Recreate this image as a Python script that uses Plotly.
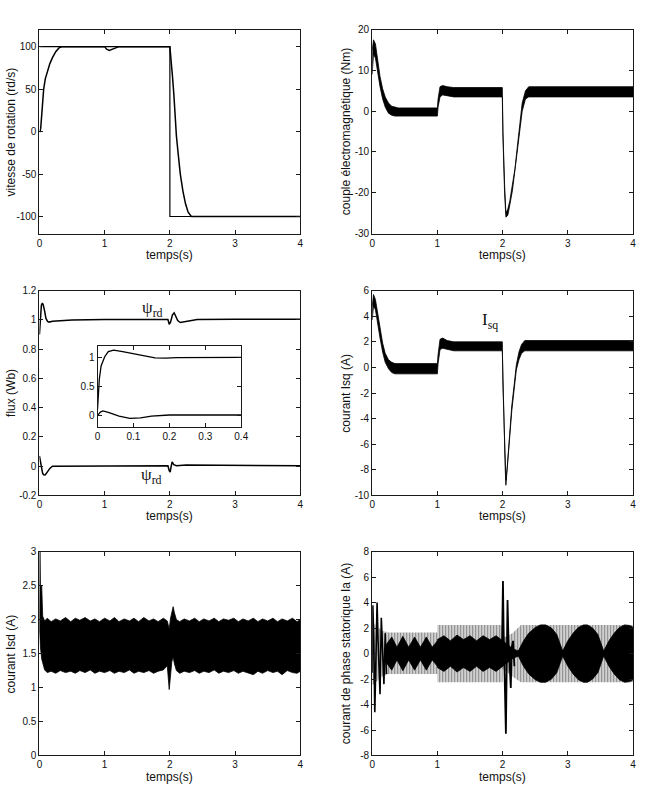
import plotly.graph_objects as go

# ---------------- data ----------------
# Panel 1: speed (rd/s)
t_wref = [0, 2, 2, 4]
w_ref = [100, 100, -100, -100]
t_w = [0, 0.01, 0.02, 0.035, 0.05, 0.065, 0.09, 0.12, 0.16, 0.2, 0.25, 0.3, 0.35,
       1.0, 1.03, 1.07, 1.12, 1.17, 1.22,
       2.0, 2.02, 2.04, 2.06, 2.08, 2.1, 2.13, 2.16, 2.2, 2.24, 2.28, 2.33, 4.0]
w = [0, 0, 4, 20, 38, 50, 62, 71, 80, 87, 94, 98.5, 100,
     100, 97, 95.5, 97, 99, 100,
     100, 85, 65, 45, 15, -5, -28, -50, -70, -85, -95, -100, -100]

# Panel 2: electromagnetic torque band (Nm)
t_te = [0, 0.02, 0.05, 0.08, 0.12, 0.16, 0.2, 0.25, 0.3, 0.35, 0.4, 1.0, 1.01, 1.04, 1.08, 1.15,
        1.25, 1.995, 2.005, 2.03, 2.05, 2.08, 2.11, 2.15, 2.19, 2.23, 2.27, 2.3, 2.35, 2.4, 4.0]
te_up = [15, 17.5, 16.5, 13, 8.5, 5.5, 3.5, 2, 1.2, 1, 0.8, 0.8, 3, 6, 6.3, 6,
         5.8, 5.8, -5, -18, -25, -24, -22, -18, -14, -8, -2, 2, 5, 6, 6]
te_lo = [9, 14, 13, 10, 6, 3, 1, -0.5, -1, -1.2, -1.2, -1.2, 1, 3.5, 4, 3.8,
         3.5, 3.5, -6.5, -20, -26, -25.5, -23, -19.5, -15.5, -10, -4, 0, 3, 3.5, 3.5]

# Panel 3: rotor flux components (Wb)
t_fd = [0, 0.01, 0.02, 0.03, 0.045, 0.06, 0.08, 0.1, 0.125, 0.15, 0.2, 0.3, 0.5, 1.0, 1.5,
        1.97, 1.99, 2.01, 2.04, 2.065, 2.09, 2.12, 2.16, 2.2, 2.3, 2.42, 3.0, 4.0]
fd = [0.9, 0.97, 1.05, 1.1, 1.115, 1.1, 1.06, 1.01, 0.99, 0.985, 0.99, 0.995, 1.0, 1.003, 1.005,
      1.003, 0.97, 0.985, 1.035, 1.048, 1.025, 0.995, 0.982, 0.985, 0.99, 1.003, 1.005, 1.005]
t_fq = [0, 0.01, 0.03, 0.05, 0.07, 0.09, 0.12, 0.16, 0.2, 0.3, 1.0, 1.2, 1.97, 1.99, 2.005,
        2.02, 2.035, 2.06, 2.1, 2.25, 2.3, 2.45, 4.0]
fq = [0.07, 0.04, -0.02, -0.05, -0.06, -0.058, -0.04, -0.015, 0.0, 0.0, 0.0, 0.003, 0.003, -0.03,
      -0.04, 0.0, 0.03, 0.01, 0.003, 0.008, 0.008, 0.003, 0.003]
# inset (zoom 0 - 0.4 s)
t_in_d = [0, 0.002, 0.005, 0.01, 0.02, 0.03, 0.045, 0.07, 0.1, 0.13, 0.16, 0.19, 0.22, 0.4]
in_d = [0.1, 0.35, 0.62, 0.85, 1.01, 1.1, 1.125, 1.1, 1.06, 1.02, 0.99, 0.985, 0.995, 1.0]
t_in_q = [0, 0.008, 0.015, 0.03, 0.06, 0.09, 0.12, 0.15, 0.2, 0.4]
in_q = [-0.01, 0.05, 0.07, 0.045, -0.02, -0.06, -0.05, -0.02, 0.0, 0.0]

# Panel 4: Isq band (A)
t_isq = [0, 0.02, 0.05, 0.08, 0.12, 0.16, 0.2, 0.25, 0.3, 0.35, 0.4, 1.0, 1.01, 1.04, 1.08, 1.15,
         1.25, 1.995, 2.005, 2.04, 2.05, 2.07, 2.1, 2.14, 2.18, 2.21, 2.25, 2.29, 2.34, 2.4, 4.0]
isq_up = [4.8, 5.7, 5.3, 4.3, 3.0, 1.9, 1.1, 0.6, 0.4, 0.3, 0.3, 0.3, 1.0, 2.2, 2.3, 2.1,
          2.0, 2.0, -1.5, -7.5, -8.8, -7.8, -5.5, -3.0, -1.2, 0.2, 1.2, 1.8, 2.1, 2.1, 2.1]
isq_lo = [3.7, 4.8, 4.5, 3.5, 2.3, 1.2, 0.4, -0.1, -0.4, -0.5, -0.5, -0.5, 0.3, 1.4, 1.5, 1.4,
          1.3, 1.3, -2.0, -8.0, -9.2, -8.3, -6.0, -3.4, -1.6, -0.2, 0.6, 1.1, 1.3, 1.3, 1.3]

# Panel 5: Isd band (A)
t_isd = [0, 0.008, 0.015, 0.035, 0.05, 0.08, 0.12, 0.18, 0.25, 0.32, 0.4, 0.48, 0.55, 0.62, 0.7,
         0.78, 0.85, 0.92, 1.0, 1.08, 1.15, 1.22, 1.3, 1.38, 1.45, 1.52, 1.6, 1.68, 1.75, 1.82,
         1.9, 1.96, 1.99, 2.01, 2.03, 2.05, 2.07, 2.1, 2.15, 2.22, 2.3, 2.38, 2.45, 2.52, 2.6,
         2.68, 2.75, 2.82, 2.9, 2.98, 3.05, 3.12, 3.2, 3.28, 3.35, 3.42, 3.5, 3.58, 3.65, 3.72,
         3.8, 3.88, 3.95, 4.0]
isd_up = [1.85, 3.0, 2.5, 2.5, 2.05, 1.98, 2.02, 1.97, 2.01, 1.98, 2.03, 1.97, 2.02, 1.99, 2.03,
          1.98, 2.01, 1.97, 2.02, 1.98, 2.03, 1.97, 2.01, 1.98, 2.02, 1.97, 2.03, 1.98, 2.01, 1.97,
          2.02, 1.98, 1.86, 2.02, 2.12, 2.19, 2.1, 2.0, 1.97, 2.01, 1.98, 2.02, 1.97, 2.01, 1.98,
          2.02, 1.97, 2.01, 1.99, 2.02, 1.97, 2.01, 1.98, 2.02, 1.97, 2.01, 1.98, 2.02, 1.97, 2.01,
          1.98, 2.02, 1.97, 2.0]
isd_lo = [1.85, 1.75, 1.6, 1.42, 1.35, 1.26, 1.22, 1.24, 1.21, 1.25, 1.22, 1.24, 1.21, 1.25, 1.22,
          1.26, 1.21, 1.24, 1.22, 1.25, 1.21, 1.24, 1.22, 1.26, 1.21, 1.24, 1.22, 1.25, 1.21, 1.24,
          1.26, 1.32, 0.97, 1.1, 1.38, 1.45, 1.35, 1.25, 1.21, 1.24, 1.22, 1.25, 1.21, 1.24, 1.22,
          1.26, 1.21, 1.24, 1.22, 1.25, 1.21, 1.24, 1.22, 1.19, 1.24, 1.21, 1.25, 1.22, 1.24, 1.19,
          1.25, 1.22, 1.21, 1.24]

# Panel 6: stator phase current ia (A)
t_ia_out = [0, 0.15, 0.25, 1.0, 1.0, 2.0, 2.0, 2.15, 2.28, 4.0]
ia_out_up = [2.5, 1.8, 1.65, 1.65, 2.25, 2.25, 1.2, 1.6, 2.25, 2.25]
ia_out_lo = [-2.5, -1.8, -1.6, -1.6, -2.25, -2.25, -1.2, -1.8, -2.25, -2.25]
t_ia_in = [0.2, 0.3, 0.38, 0.47, 0.56, 0.65, 0.74, 0.83, 0.92, 1.0, 1.0, 1.1, 1.2, 1.3, 1.4, 1.5,
           1.6, 1.7, 1.8, 1.9, 2.0, 2.15, 2.24, 2.32, 2.4, 2.5, 2.58, 2.66, 2.75, 2.83, 2.92,
           3.0, 3.08, 3.16, 3.24, 3.3, 3.38, 3.46, 3.55, 3.63, 3.71, 3.79, 3.87, 3.95, 4.0]
ia_in_amp = [0.6, 1.3, 0.5, 1.35, 0.5, 1.3, 0.5, 1.3, 0.5, 1.0, 1.1, 1.4, 1.0, 1.45, 1.1, 1.4,
             1.0, 1.4, 1.1, 1.4, 1.0, 0.4, 0.2, 1.0, 1.6, 2.05, 2.25, 2.25, 2.0, 1.5, 0.2,
             1.0, 1.6, 2.05, 2.25, 2.25, 2.0, 1.5, 0.2, 1.0, 1.6, 2.05, 2.25, 2.2, 2.05]
t_ia_s = [0, 0.01, 0.025, 0.04, 0.055, 0.075, 0.09, 0.105, 0.12, 0.14, 0.16, 0.18, 0.2, 0.22]
ia_s = [-1.5, 3.8, 1.0, -4.6, -1.0, 4.0, 1.0, -2.0, -3.2, 2.8, 0.5, -2.4, 1.6, -1.6]
t_ia_t = [1.99, 2.005, 2.015, 2.03, 2.05, 2.06, 2.075, 2.09, 2.11, 2.125, 2.14, 2.16, 2.18]
ia_t = [0.5, 5.7, 2.0, -3.0, -6.3, -2.0, 4.2, 1.0, -2.0, -2.7, 0.5, 1.0, -1.0]

# ---------------- layout geometry (pixels) ----------------
W, H = 645, 794
cols = [(37, 302), (375, 640)]
rows = [(24, 231), (289, 497), (554, 761)]


def xd(a, b):
    return [a / W, b / W]


def yd(top, bot):
    return [1 - bot / H, 1 - top / H]


FONT = "Liberation Sans"
INK = "#1a1a1a"

fig = go.Figure()


def line(x, y, ax, width=1.5):
    fig.add_trace(go.Scatter(x=x, y=y, mode="lines", xaxis="x" + ax, yaxis="y" + ax,
                             line=dict(color="black", width=width), hoverinfo="skip"))


def band(t, up, lo, ax, color="black", pattern=None):
    xs = list(t) + list(t)[::-1]
    ys = list(up) + list(lo)[::-1]
    kw = dict(fillcolor=color)
    if pattern is not None:
        kw = dict(fillpattern=pattern, fillcolor="rgba(0,0,0,0)")
    fig.add_trace(go.Scatter(x=xs, y=ys, mode="lines", fill="toself", xaxis="x" + ax,
                             yaxis="y" + ax, line=dict(color="black", width=0.8 if pattern is None else 0),
                             hoverinfo="skip", **kw))


# panel 1
line(t_wref, w_ref, "", 1.2)
line(t_w, w, "", 1.5)
# panel 2
band(t_te, te_up, te_lo, "2")
# panel 3
line(t_fd, fd, "3", 1.5)
line(t_fq, fq, "3", 1.5)
line(t_in_d, in_d, "7", 1.3)
line(t_in_q, in_q, "7", 1.3)
# panel 4
band(t_isq, isq_up, isq_lo, "4")
# panel 5
band(t_isd, isd_up, isd_lo, "5")
# panel 6
band(t_ia_out, ia_out_up, ia_out_lo, "6",
     pattern=dict(shape="|", size=3, solidity=0.6, fgcolor="#111", bgcolor="white"))
band(t_ia_in, ia_in_amp, [-a for a in ia_in_amp], "6")
line(t_ia_s, ia_s, "6", 1.6)
line(t_ia_t, ia_t, "6", 1.8)

axis_style = dict(showline=True, linecolor=INK, linewidth=1, mirror="ticks", ticks="inside",
                  ticklen=4, tickcolor=INK, showgrid=False, zeroline=False,
                  tickfont=dict(family=FONT, size=10, color="#111"))

xt = dict(tickvals=[0, 1, 2, 3, 4], ticktext=["0", "1", "2", "3", "4"], range=[0, 4],
          ticklabelstandoff=0)


def fmt(v):
    return "%g" % v


yspecs = {
    "": ([-120, 120], [-100, -50, 0, 50, 100]),
    "2": ([-30, 20], [-30, -20, -10, 0, 10, 20]),
    "3": ([-0.2, 1.2], [-0.2, 0, 0.2, 0.4, 0.6, 0.8, 1.0, 1.2]),
    "4": ([-10, 6], [-10, -8, -6, -4, -2, 0, 2, 4, 6]),
    "5": ([0, 3], [0, 0.5, 1, 1.5, 2, 2.5, 3]),
    "6": ([-8, 8], [-8, -6, -4, -2, 0, 2, 4, 6, 8]),
}
pos = {"": (0, 0), "2": (1, 0), "3": (0, 1), "4": (1, 1), "5": (0, 2), "6": (1, 2)}

layout = dict(width=W, height=H, margin=dict(l=0, r=0, t=0, b=0), showlegend=False,
              paper_bgcolor="white", plot_bgcolor="white")
for k, (c, r) in pos.items():
    rng, tv = yspecs[k]
    xa = dict(axis_style, **xt, domain=xd(*cols[c]), anchor="y" + k)
    ya = dict(axis_style, range=rng, tickvals=tv, ticktext=[fmt(v) for v in tv],
              domain=yd(*rows[r]), anchor="x" + k)
    layout["xaxis" + k] = xa
    layout["yaxis" + k] = ya

# inset axes
layout["xaxis7"] = dict(axis_style, range=[0, 0.4], tickvals=[0, 0.1, 0.2, 0.3, 0.4],
                        ticktext=["0", "0.1", "0.2", "0.3", "0.4"], domain=xd(96, 242), anchor="y7",
                        ticklabelstandoff=0)
layout["yaxis7"] = dict(axis_style, range=[-0.2, 1.2], tickvals=[0, 0.5, 1],
                        ticktext=["0", "0.5", "1"], domain=yd(345, 427), anchor="x7")

fig.update_layout(**layout)

# axis titles as annotations
ann = []
xt_y = [253, 518, 783]
for c in range(2):
    for r in range(3):
        cx = (cols[c][0] + cols[c][1]) / 2
        ann.append(dict(text="temps(s)", x=cx / W, y=1 - xt_y[r] / H, xref="paper", yref="paper",
                        showarrow=False, xanchor="center", yanchor="middle",
                        font=dict(family=FONT, size=12, color="#111")))
ylabels = [("vitesse de rotation (rd/s)", 8, rows[0]),
           ("couple électromagnétique (Nm)", 348, rows[0]),
           ("flux (Wb)", 8, rows[1]),
           ("courant Isq (A)", 348, rows[1]),
           ("courant Isd (A)", 8, rows[2]),
           ("courant de phase statorique Ia (A)", 348, rows[2])]
for txt, px, (top, bot) in ylabels:
    ann.append(dict(text=txt, x=px / W, y=1 - (top + bot) / 2 / H, xref="paper", yref="paper",
                    showarrow=False, textangle=-90, xanchor="center", yanchor="middle",
                    font=dict(family=FONT, size=12, color="#111")))
serif = dict(family="Liberation Serif", size=17, color="#111")
ann.append(dict(text="ψ<sub>rd</sub>", x=152 / W, y=1 - 308 / H, xref="paper", yref="paper",
                showarrow=False, xanchor="center", yanchor="middle", font=serif))
ann.append(dict(text="ψ<sub>rd</sub>", x=151 / W, y=1 - 477 / H, xref="paper", yref="paper",
                showarrow=False, xanchor="center", yanchor="middle", font=serif))
ann.append(dict(text="I<sub>sq</sub>", x=495 / W, y=1 - 320 / H, xref="paper", yref="paper",
                showarrow=False, xanchor="center", yanchor="middle", font=serif))
fig.update_layout(annotations=ann)

fig.write_html("out.html")
